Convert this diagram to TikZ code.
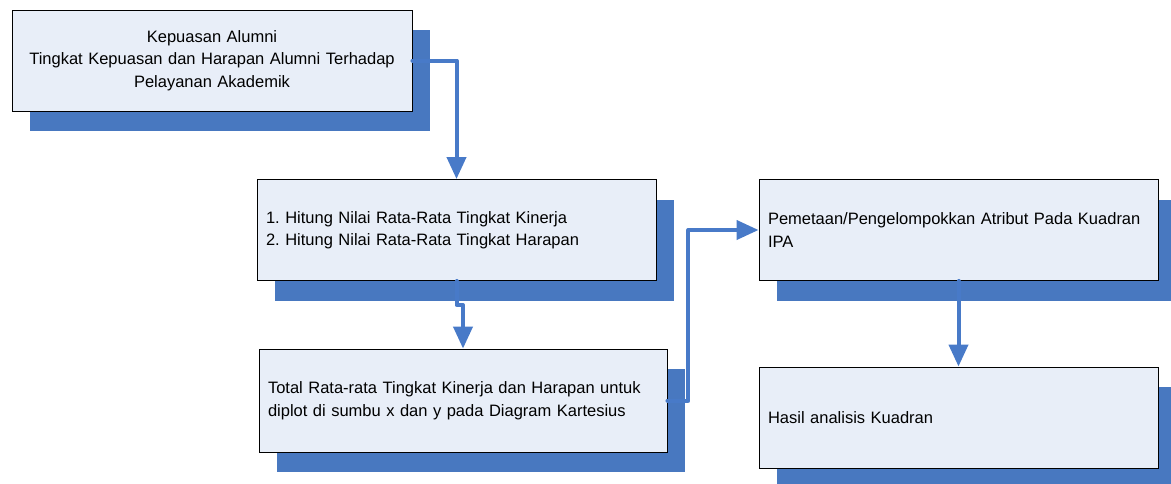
\documentclass[tikz,border=0pt]{standalone}
\usepackage{fontspec}
\setmainfont{Liberation Sans}
\usetikzlibrary{arrows.meta,shadows}
\definecolor{boxfill}{RGB}{232,238,248}
\definecolor{shadowblue}{RGB}{72,120,192}
\definecolor{arrowblue}{RGB}{72,122,200}

\begin{document}
\frenchspacing
\begin{tikzpicture}[x=1pt,y=-1pt,
  stepbox/.style={draw=black, line width=0.9pt, fill=boxfill,
    minimum height=101pt, inner xsep=9pt, inner ysep=0pt,
    font=\fontsize{16.5}{22.5}\selectfont,
    general shadow={fill=shadowblue, shadow xshift=18pt, shadow yshift=-20pt}},
  flow/.style={draw=arrowblue, line width=4pt, line cap=round, line join=round,
    -{Triangle[width=19pt,length=22pt]}}]
\useasboundingbox (0,0) rectangle (1171,483);
\clip (0,0) rectangle (1171,483);

% process steps
\node[stepbox, text width=382pt, align=center] (b1) at (212,60.5)
  {Kepuasan Alumni\\Tingkat Kepuasan dan Harapan Alumni Terhadap\\Pelayanan Akademik};
\node[stepbox, text width=381pt, align=left] (b2) at (456.5,230)
  {1. Hitung Nilai Rata-Rata Tingkat Kinerja\\2. Hitung Nilai Rata-Rata Tingkat Harapan};
\node[stepbox, text width=390pt, align=left, minimum height=103pt] (b3) at (463,400.5)
  {Total Rata-rata Tingkat Kinerja dan Harapan untuk\\diplot di sumbu x dan y pada Diagram Kartesius};
\node[stepbox, text width=381pt, align=left] (b4) at (958.5,230)
  {Pemetaan/Pengelompokkan Atribut Pada Kuadran\\IPA};
\node[stepbox, text width=381pt, align=left] (b5) at (958.5,417.5)
  {Hasil analisis Kuadran};

% connectors
\draw[flow] (b1.east) -| (b2.north);
\draw[flow] (b2.south) -- ++(0,24) -| (b3.north);
\draw[flow] (b3.east) -- ++(21,0) |- (b4.west);
\draw[flow] (b4.south) -- (b5.north);
\end{tikzpicture}
\end{document}
